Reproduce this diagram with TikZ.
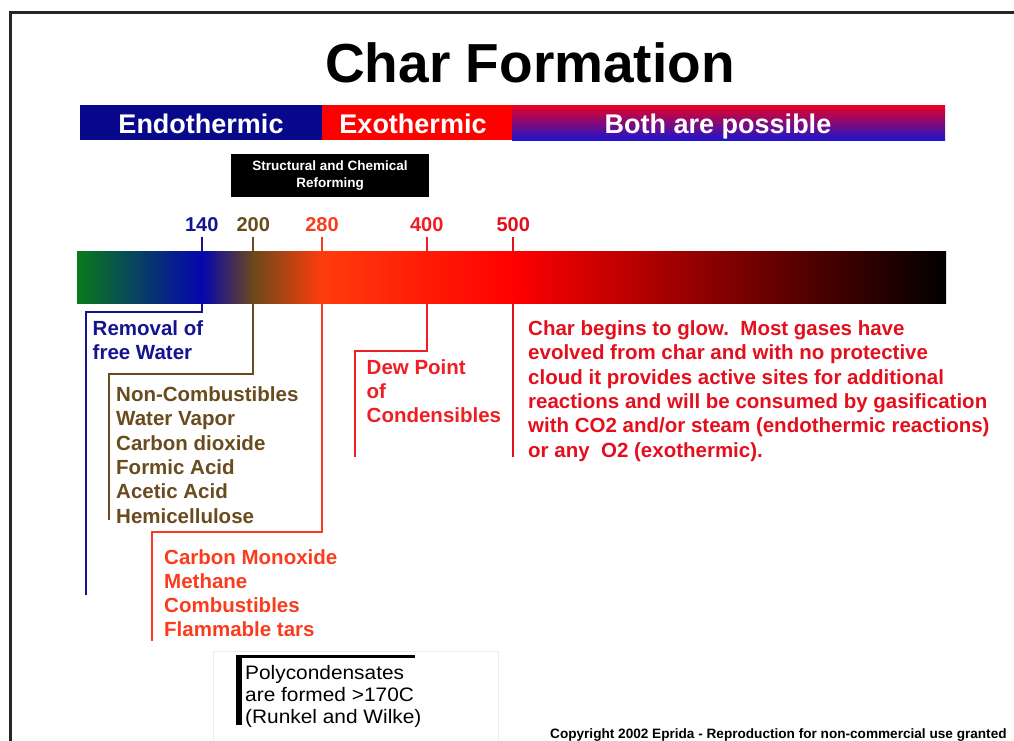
\documentclass[tikz,border=0pt]{standalone}
\usepackage{fontspec}
\setmainfont{Liberation Sans}
\newfontfamily\polyfont[FakeStretch=1.07]{Liberation Sans}
\definecolor{endoblue}{RGB}{8,8,140}
\definecolor{exored}{RGB}{255,0,0}
\definecolor{bothtop}{RGB}{235,0,35}
\definecolor{bothbot}{RGB}{30,20,205}
\definecolor{navyb}{RGB}{20,20,145}
\definecolor{brownc}{RGB}{105,75,30}
\definecolor{orangec}{RGB}{250,60,30}
\definecolor{redc}{RGB}{238,30,35}
\definecolor{glowred}{RGB}{228,15,28}
\definecolor{barg}{RGB}{10,122,26}
\definecolor{barb}{RGB}{5,5,175}
\definecolor{barbr}{RGB}{108,74,26}
\definecolor{baro}{RGB}{255,60,12}
\definecolor{barr}{RGB}{255,0,0}
\tikzset{
  band/.style={font=\fontsize{27}{32}\selectfont\bfseries, text=white, inner sep=0pt, anchor=base},
  tick/.style={font=\fontsize{20}{24}\selectfont\bfseries, inner sep=0pt},
  lbl/.style={font=\fontsize{20.5}{24.3}\selectfont\bfseries, align=left, anchor=north west, inner sep=0pt},
  lead/.style={line width=2pt}
}
\begin{document}
\begin{tikzpicture}[x=1pt,y=-1pt]
\useasboundingbox (0,0) rectangle (1014,740);
% frame
\draw[line width=3pt,black!85] (10.5,742) -- (10.5,12) -- (1016,12);

\node[font=\fontsize{55}{60}\selectfont\bfseries, inner sep=0pt, anchor=base] (title) at (530,82) {Char Formation};

% heat band
\fill[endoblue] (80,105) rectangle (322,140);
\fill[exored] (322,105) rectangle (512,140);
\shade[top color=bothtop, bottom color=bothbot] (512,105) rectangle (945,140);
\node[band] (endo) at (201,133) {Endothermic};
\node[band] (exo) at (413,133) {Exothermic};
\node[band] (both) at (718,133) {Both are possible};

\node[fill=black, text=white, align=center, inner sep=0pt, minimum width=198pt, minimum height=43pt,
  font=\fontsize{13.5}{16.3}\selectfont\bfseries] (reform) at (330,175.5) {Structural and Chemical\\Reforming};

% temperature bar
\shade[left color=barg, right color=barb] (77,251) rectangle (202,303);
\shade[left color=barb, right color=barbr] (201.5,251) rectangle (254,303);
\shade[left color=barbr, right color=baro] (253.5,251) rectangle (322,303);
\shade[left color=baro, right color=barr] (321.5,251) rectangle (514,303);
\shade[left color=barr, right color=black] (513.5,251) rectangle (946,303);

\foreach \x/\t/\c in {201.7/140/navyb, 253.3/200/brownc, 322/280/orangec, 426.7/400/redc, 513.3/500/glowred} {
  \coordinate (top\t) at (\x,251);
  \coordinate (bot\t) at (\x,303);
  \node[tick, text=\c] (n\t) at (\x,225) {\t};
  \draw[lead,\c] (n\t.south |- 0,237) -- (top\t);
}
\coordinate (end140) at (85.7,595);
\coordinate (end200) at (109.3,520);
\coordinate (end280) at (152.3,641);
\coordinate (end400) at (354.7,457);
\coordinate (end500) at (513.3,457);

\draw[lead,navyb] (bot140) -- ++(0,9) -| (end140);
\draw[lead,brownc] (bot200) -- ++(0,71) -| (end200);
\draw[lead,orangec] (bot280) -- ++(0,229) -| (end280);
\draw[lead,redc] (bot400) -- ++(0,48) -| (end400);
\draw[lead,glowred] (bot500) -- (end500);

\node[lbl, text=navyb] (water) at (92.5,320.5) {Removal of\\free Water};
\node[lbl, text=brownc] (noncomb) at (116,386.5) {Non-Combustibles\\Water Vapor\\Carbon dioxide\\Formic Acid\\Acetic Acid\\Hemicellulose};
\node[lbl, text=orangec] (comb) at (164,549) {Carbon Monoxide\\Methane\\Combustibles\\Flammable tars};
\node[lbl, text=redc] (dew) at (366.5,359) {Dew Point\\of\\Condensibles};
\node[lbl, text=glowred] (glow) at (528,320.5) {Char begins to glow.\ \ Most gases have\\evolved from char and with no protective\\cloud it provides active sites for additional\\reactions and will be consumed by gasification\\with CO2 and/or steam (endothermic reactions)\\or any\ \ O2 (exothermic).};

% polycondensates note
\draw[black!8] (213,651) rectangle (498,745);
\draw[line width=6pt] (238.5,725) -- (238.5,654.5);
\draw[line width=3.5pt] (235.5,656.5) -- (415,656.5);
\node[anchor=north west, inner sep=0pt, align=left, font=\polyfont\fontsize{19.5}{22}\selectfont] (poly) at (245,665) {Polycondensates\\are formed >170C\\(Runkel and Wilke)};

\node[anchor=base west, inner sep=0pt, font=\fontsize{13.6}{15}\selectfont\bfseries] (copy) at (550,738) {Copyright 2002 Eprida - Reproduction for non-commercial use granted};
\end{tikzpicture}
\end{document}
